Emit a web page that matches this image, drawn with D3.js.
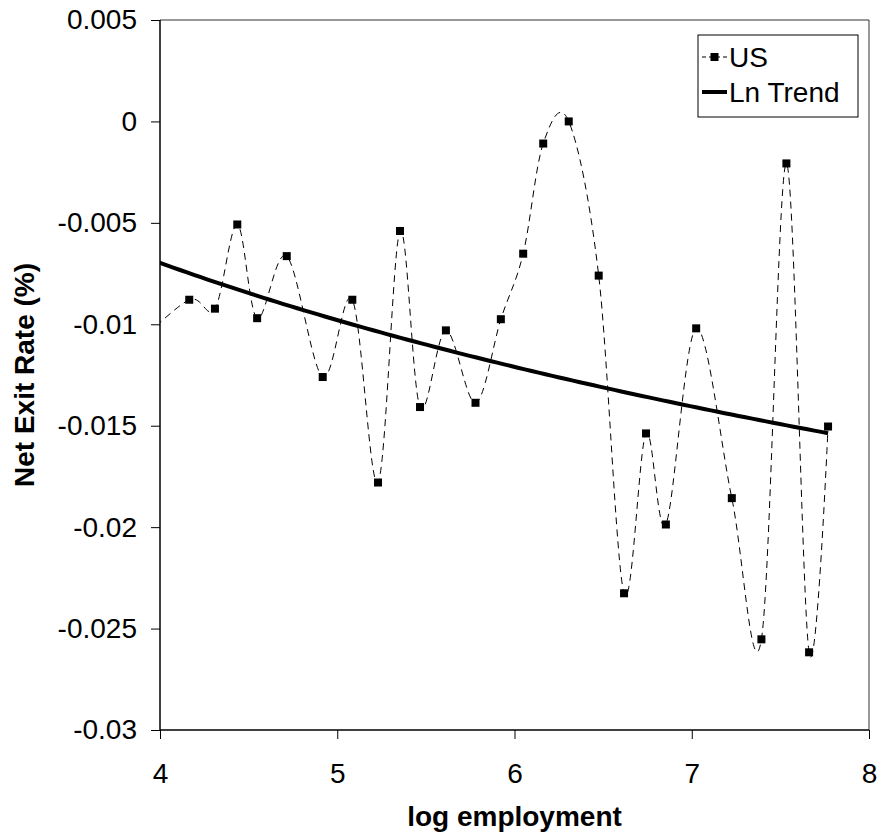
<!DOCTYPE html>
<html>
<head>
    <meta charset="utf-8" />
    <title>Net Exit Rate</title>
    <style>
        body { margin: 0; background: #fff; }
        svg text { font-family: "Liberation Sans", Arial, sans-serif; fill: #000; }
    </style>
</head>
<body>
    <div id="chart"></div>
    <script src="https://cdn.jsdelivr.net/npm/d3@7/dist/d3.min.js"></script>
    <script>
        // log employment bins and US net exit rates (first point lies left of the axis)
        var logEmp = [3.88, 4.165, 4.31, 4.436, 4.548, 4.715, 4.918, 5.085, 5.23, 5.354, 5.467,
            5.613, 5.78, 5.923, 6.049, 6.162, 6.306, 6.475, 6.618, 6.742, 6.854,
            7.025, 7.226, 7.393, 7.534, 7.662, 7.769];
        var netExit = [-0.0109, -0.00879, -0.00923, -0.00508, -0.0097, -0.00664, -0.0126, -0.00879, -0.0178, -0.0054, -0.01408,
            -0.0103, -0.01387, -0.00975, -0.00652, -0.00109, 0.0, -0.0076, -0.02326, -0.01538, -0.01987,
            -0.0102, -0.01857, -0.02553, -0.00207, -0.02617, -0.01504];
        var xTicks = [4, 5, 6, 7, 8];
        var yTicks = [0.005, 0, -0.005, -0.01, -0.015, -0.02, -0.025, -0.03];
        var seriesNames = ["US", "Ln Trend"];

        var width = 877, height = 839;
        var margin = { top: 20, right: 8, bottom: 109, left: 160 };
        var fontSize = 28;

        var svg = d3.select("#chart").append("svg")
            .attr("width", width)
            .attr("height", height);

        var x = d3.scaleLinear().domain([4, 8]).range([margin.left, width - margin.right]);
        var y = d3.scaleLinear().domain([-0.03, 0.005]).range([height - margin.bottom, margin.top]);

        var data = logEmp.map((d, i) => ({ x: d, y: netExit[i] }));

        // logarithmic least-squares trend, y = a ln(x) + b
        var lx = data.map(d => Math.log(d.x));
        var mx = d3.mean(lx), my = d3.mean(data, d => d.y);
        var a = d3.sum(data, (d, i) => (lx[i] - mx) * (d.y - my)) / d3.sum(lx, v => (v - mx) * (v - mx));
        var b = my - a * mx;
        var xMin = d3.min(logEmp), xMax = d3.max(logEmp);
        var trend = d3.range(0, 101).map(k => {
            var xv = xMin + (xMax - xMin) * k / 100;
            return { x: xv, y: a * Math.log(xv) + b };
        });

        svg.append("clipPath").attr("id", "plot-clip")
            .append("rect")
            .attr("x", x(4)).attr("y", y(0.005))
            .attr("width", x(8) - x(4)).attr("height", y(-0.03) - y(0.005));

        // plot frame (top/right)
        svg.append("path")
            .attr("fill", "none")
            .attr("stroke", "#333")
            .attr("stroke-width", 1)
            .attr("d", `M${x(4)},${y(0.005)}H${x(8)}V${y(-0.03)}`);

        var line = d3.line().x(d => x(d.x)).y(d => y(d.y));

        var plot = svg.append("g").attr("clip-path", "url(#plot-clip)");

        plot.append("path")
            .datum(data)
            .attr("fill", "none")
            .attr("stroke", "#000")
            .attr("stroke-width", 1)
            .attr("stroke-dasharray", "7,5")
            .attr("d", line.curve(d3.curveCardinal.tension(0)));

        plot.append("path")
            .datum(trend)
            .attr("fill", "none")
            .attr("stroke", "#000")
            .attr("stroke-width", 4)
            .attr("d", d3.line().x(d => x(d.x)).y(d => y(d.y)));

        plot.selectAll("rect.marker")
            .data(data.filter(d => d.x >= 4))
            .join("rect")
            .attr("class", "marker")
            .attr("x", d => x(d.x) - 4)
            .attr("y", d => y(d.y) - 4)
            .attr("width", 8)
            .attr("height", 8)
            .attr("fill", "#000");

        // axes
        var xAxis = svg.append("g")
            .attr("transform", `translate(0,${y(-0.03)})`)
            .call(d3.axisBottom(x).tickValues(xTicks).tickSize(9).tickPadding(24).tickFormat(d3.format("d")));
        var yAxis = svg.append("g")
            .attr("transform", `translate(${x(4)},0)`)
            .call(d3.axisLeft(y).tickValues(yTicks).tickSize(9).tickPadding(14).tickFormat(d => d === 0 ? "0" : String(d)));
        [xAxis, yAxis].forEach(g => {
            g.select(".domain").attr("stroke", "#000").attr("stroke-width", 1.5);
            g.selectAll(".tick line").attr("stroke", "#000");
            g.selectAll(".tick text").attr("font-size", fontSize).attr("fill", "#000");
            g.attr("font-family", null);
        });
        xAxis.select(".domain").attr("d", `M${x(4)},0H${x(8)}`);
        yAxis.select(".domain").attr("d", `M0,${y(-0.03)}V${y(0.005)}`);

        svg.append("text")
            .attr("x", (x(4) + x(8)) / 2)
            .attr("y", 826)
            .attr("text-anchor", "middle")
            .attr("font-size", fontSize)
            .attr("font-weight", "bold")
            .text("log employment");

        svg.append("text")
            .attr("transform", `translate(34,${(y(0.005) + y(-0.03)) / 2}) rotate(-90)`)
            .attr("text-anchor", "middle")
            .attr("font-size", fontSize)
            .attr("font-weight", "bold")
            .text("Net Exit Rate (%)");

        // legend
        var legend = svg.append("g").attr("transform", "translate(698,35)");
        legend.append("rect")
            .attr("width", 160).attr("height", 82)
            .attr("fill", "#fff").attr("stroke", "#000").attr("stroke-width", 1);
        var rows = legend.selectAll("g.row")
            .data(seriesNames)
            .join("g")
            .attr("class", "row")
            .attr("transform", (d, i) => `translate(0,${22 + i * 35})`);
        rows.append("line")
            .attr("x1", 4).attr("x2", 29)
            .attr("stroke", "#000")
            .attr("stroke-width", (d, i) => i === 0 ? 1 : 4)
            .attr("stroke-dasharray", (d, i) => i === 0 ? "4,3" : null);
        rows.filter((d, i) => i === 0).append("rect")
            .attr("x", 12.5).attr("y", -4).attr("width", 8).attr("height", 8).attr("fill", "#000");
        rows.append("text")
            .attr("x", 31)
            .attr("dy", "0.35em")
            .attr("font-size", fontSize)
            .text(d => d);
    </script>
</body>
</html>
